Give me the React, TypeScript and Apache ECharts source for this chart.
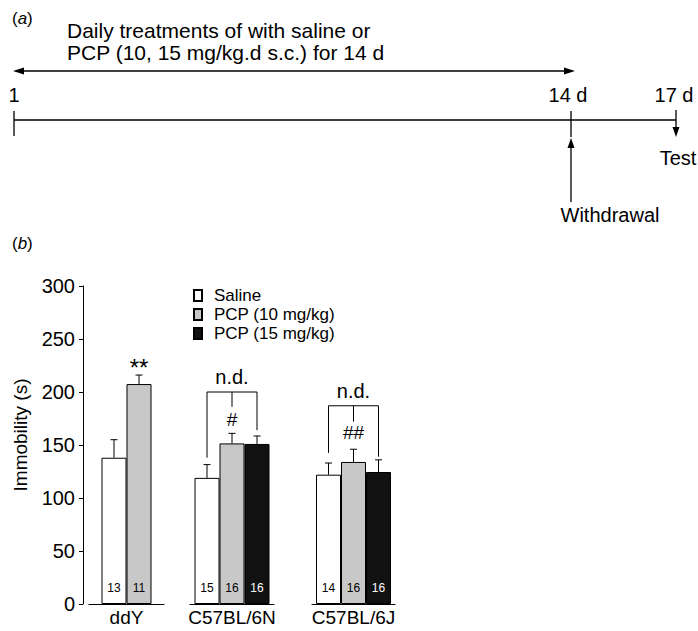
import React, { useEffect, useRef } from "react";
import * as echarts from "echarts";

// ---------- data ----------
const strains = ["ddY", "C57BL/6N", "C57BL/6J"];
const treatments = ["Saline", "PCP (10 mg/kg)", "PCP (15 mg/kg)"];

const meanDdY = [138, 207.5];
const semDdY = [17, 8.5];
const nDdY = [13, 11];
const sigDdY = ["", "**"];

const mean6N = [119, 151.5, 151];
const sem6N = [12.5, 9.5, 7.5];
const n6N = [15, 16, 16];

const mean6J = [122, 134, 124.5];
const sem6J = [11, 12, 11.5];
const n6J = [14, 16, 16];

// brackets for C57BL/6N and C57BL/6J: [top, leftEnd, midEnd, rightEnd]
const bracketTop = [200, 187];
const bracketLeftEnd = [138, 142.5];
const bracketMidEnd = [186, 172];
const bracketRightEnd = [164, 139];
const bracketLabel = ["n.d.", "n.d."];
const bracketSig = ["#", "##"];

const yTicks = { min: 0, max: 300, interval: 50 };
const yAxisTitle = "Immobility (s)";

const timelineLabels = ["1", "14 d", "17 d"];
const treatmentText = [
  "Daily treatments of with saline or",
  "PCP (10, 15 mg/kg.d s.c.) for 14 d",
];
const eventLabels = ["Withdrawal", "Test"];

// ---------- styles ----------
const FONT = "Liberation Sans, Arial, sans-serif";
const BAR_W = 25;
const fills = ["#ffffff", "#c8c8c8", "#111111"];
const labelColors = ["#000000", "#000000", "#ffffff"];

const groups = [
  { means: meanDdY, sems: semDdY, ns: nDdY, grid: { left: 89, width: 75 } },
  { means: mean6N, sems: sem6N, ns: n6N, grid: { left: 190, width: 84 } },
  { means: mean6J, sems: sem6J, ns: n6J, grid: { left: 312, width: 83 } },
];

function barX(api: any, value: number, idx: number, n: number) {
  const p = api.coord([0, value]);
  return [p[0] + (idx - (n - 1) / 2) * BAR_W, p[1]];
}

function buildOption() {
  const grid = groups.map((g) => ({
    left: g.grid.left,
    width: g.grid.width,
    top: 286,
    bottom: 27,
  }));
  const xAxis = groups.map((g, gi) => ({
    type: "category",
    gridIndex: gi,
    data: [strains[gi]],
    axisLine: { show: true, lineStyle: { color: "#000", width: 1 } },
    axisTick: { show: false },
    axisLabel: { fontSize: 19, color: "#000", fontFamily: FONT, margin: 4 },
  }));
  const yAxis = groups.map((g, gi) => ({
    type: "value",
    gridIndex: gi,
    min: yTicks.min,
    max: yTicks.max,
    interval: yTicks.interval,
    show: gi === 0,
    offset: 6,
    axisLine: { show: true, lineStyle: { color: "#000", width: 1 } },
    axisTick: { show: true, length: 4, lineStyle: { color: "#000" } },
    axisLabel: { fontSize: 20, color: "#000", fontFamily: FONT, margin: 8 },
    splitLine: { show: false },
  }));

  const series: any[] = [];
  groups.forEach((g, gi) => {
    const n = g.means.length;
    g.means.forEach((m, ti) => {
      series.push({
        type: "bar",
        name: treatments[ti],
        xAxisIndex: gi,
        yAxisIndex: gi,
        data: [m],
        barWidth: BAR_W,
        barGap: "0%",
        itemStyle: { color: fills[ti], borderColor: "#000", borderWidth: 1 },
        label: {
          show: true,
          position: "insideBottom",
          distance: 10,
          formatter: String(g.ns[ti]),
          fontSize: 12,
          color: labelColors[ti],
          textBorderWidth: 0,
          textBorderColor: "transparent",
          fontFamily: FONT,
        },
        z: 2,
      });
    });
    // error bars
    series.push({
      type: "custom",
      xAxisIndex: gi,
      yAxisIndex: gi,
      z: 5,
      data: g.means.map((m, i) => [0, m, m + g.sems[i], i]),
      encode: { x: 0, y: 1 },
      renderItem: (params: any, api: any) => {
        const idx = api.value(3);
        const b = barX(api, api.value(1), idx, n);
        const t = barX(api, api.value(2), idx, n);
        return {
          type: "group",
          children: [
            { type: "line", shape: { x1: b[0], y1: b[1], x2: t[0], y2: t[1] }, style: { stroke: "#000", lineWidth: 1 } },
            { type: "line", shape: { x1: t[0] - 3.5, y1: t[1], x2: t[0] + 3.5, y2: t[1] }, style: { stroke: "#000", lineWidth: 1 } },
          ],
        };
      },
    });
  });

  // ** for ddY
  series.push({
    type: "custom",
    xAxisIndex: 0,
    yAxisIndex: 0,
    z: 6,
    data: meanDdY.map((m, i) => [0, m + semDdY[i], i]),
    encode: { x: 0, y: 1 },
    renderItem: (params: any, api: any) => {
      const idx = api.value(2);
      const t = barX(api, api.value(1), idx, meanDdY.length);
      return {
        type: "text",
        style: {
          text: sigDdY[idx],
          x: t[0],
          y: t[1] - 8,
          align: "center",
          verticalAlign: "middle",
          fontSize: 24,
          fontFamily: FONT,
          fill: "#000",
        },
      };
    },
  });

  // brackets
  [1, 2].forEach((gi, bi) => {
    series.push({
      type: "custom",
      xAxisIndex: gi,
      yAxisIndex: gi,
      z: 6,
      data: [[0, bracketTop[bi], bracketLeftEnd[bi], bracketMidEnd[bi], bracketRightEnd[bi]]],
      encode: { x: 0, y: 1 },
      renderItem: (params: any, api: any) => {
        const lt = barX(api, api.value(1), 0, 3);
        const rt = barX(api, api.value(1), 2, 3);
        const mt = barX(api, api.value(1), 1, 3);
        const le = barX(api, api.value(2), 0, 3);
        const me = barX(api, api.value(3), 1, 3);
        const re = barX(api, api.value(4), 2, 3);
        const st = { stroke: "#000", lineWidth: 1, fill: null };
        return {
          type: "group",
          children: [
            { type: "polyline", shape: { points: [le, lt, rt, re] }, style: st },
            { type: "line", shape: { x1: mt[0], y1: mt[1], x2: me[0], y2: me[1] }, style: st },
            {
              type: "text",
              style: { text: bracketLabel[bi], x: mt[0], y: mt[1] - 15, align: "center", verticalAlign: "middle", fontSize: 20, fontFamily: FONT, fill: "#000" },
            },
            {
              type: "text",
              style: { text: bracketSig[bi], x: mt[0], y: mt[1] + 27, align: "center", verticalAlign: "middle", fontSize: 19, fontFamily: FONT, fill: "#000" },
            },
          ],
        };
      },
    });
  });

  const ln = (x1: number, y1: number, x2: number, y2: number) => ({
    type: "line",
    shape: { x1, y1, x2, y2 },
    style: { stroke: "#000", lineWidth: 1.3 },
  });
  const tri = (pts: number[][]) => ({ type: "polygon", shape: { points: pts }, style: { fill: "#000" } });
  const txt = (text: string, x: number, y: number, align: string, size: number, extra: any = {}, rot = 0) => ({
    type: "text",
    x,
    y,
    rotation: rot,
    style: {
      text,
      align,
      textAlign: align,
      verticalAlign: "middle",
      textVerticalAlign: "middle",
      fontSize: size,
      fontFamily: FONT,
      fill: "#000",
      ...extra,
    },
  });

  const graphic = [
    txt("({i|a})", 12, 18, "left", 17, { rich: { i: { fontStyle: "italic", fontSize: 17, fontFamily: FONT } } }),
    txt(treatmentText[0], 67, 30, "left", 21),
    txt(treatmentText[1], 67, 52, "left", 21),
    ln(20, 71, 568, 71),
    tri([[13, 71], [24, 67.5], [24, 74.5]]),
    tri([[575, 71], [564, 67.5], [564, 74.5]]),
    txt(timelineLabels[0], 14, 95, "center", 20),
    txt(timelineLabels[1], 568, 95, "center", 20),
    txt(timelineLabels[2], 674, 95, "center", 20),
    ln(14, 120, 676, 120),
    ln(14, 111, 14, 136),
    ln(571, 111, 571, 137),
    ln(676, 110, 676, 128),
    tri([[676, 137], [672.5, 127], [679.5, 127]]),
    ln(571, 202, 571, 146),
    tri([[571, 138], [567.5, 148], [574.5, 148]]),
    txt(eventLabels[1], 678, 158, "center", 20),
    txt(eventLabels[0], 610, 215, "center", 20),
    txt("({i|b})", 12, 243, "left", 17, { rich: { i: { fontStyle: "italic", fontSize: 17, fontFamily: FONT } } }),
    txt(yAxisTitle, 20, 435, "center", 19, {}, Math.PI / 2),
  ];

  return {
    animation: false,
    backgroundColor: "#fff",
    textStyle: { fontFamily: FONT },
    grid,
    xAxis,
    yAxis,
    legend: {
      data: treatments,
      orient: "vertical",
      left: 193,
      top: 287,
      icon: "rect",
      itemWidth: 8,
      itemHeight: 11,
      itemGap: 2,
      padding: 0,
      textStyle: { fontSize: 17, lineHeight: 17, color: "#000", fontFamily: FONT, padding: [0, 0, 0, 7] },
      selectedMode: false,
    },
    series,
    graphic,
  };
}

export default function App() {
  const ref = useRef<HTMLDivElement>(null);
  useEffect(() => {
    document.body.style.margin = "0";
    const chart = echarts.init(ref.current!, undefined, { renderer: "svg" });
    chart.setOption(buildOption() as any);
    return () => chart.dispose();
  }, []);
  return <div ref={ref} style={{ width: 698, height: 631 }} />;
}
